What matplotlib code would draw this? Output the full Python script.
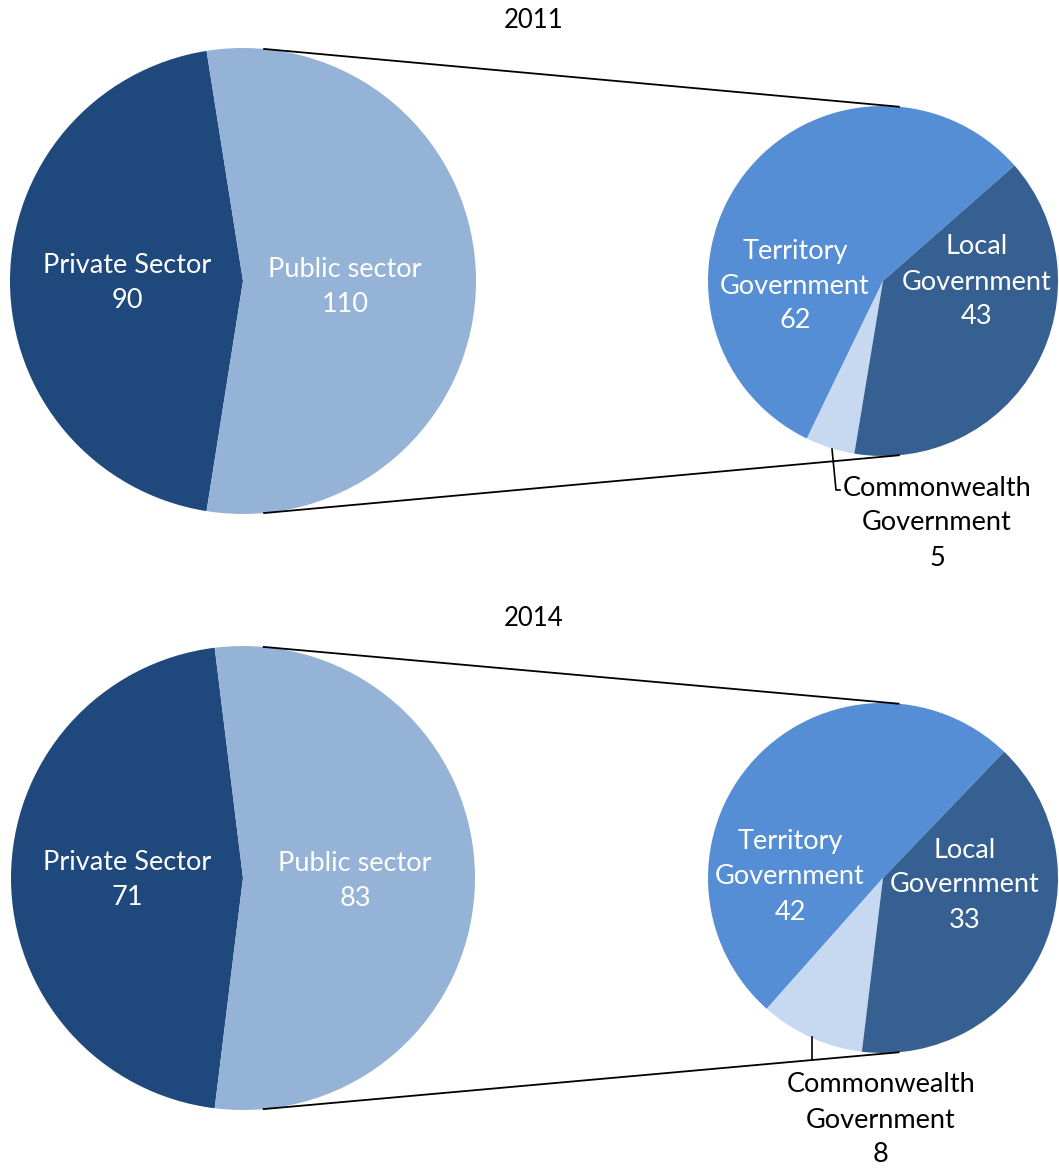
import numpy as np
import matplotlib
matplotlib.use("Agg")
import matplotlib.pyplot as plt

plt.rcParams["font.family"] = ["Lato", "DejaVu Sans"]

years = ["2011", "2014"]
sector_labels = ["Private Sector", "Public sector"]
sector_values = [[90, 110], [71, 83]]
public_labels = ["Territory\nGovernment", "Commonwealth\nGovernment", "Local\nGovernment"]
public_values = [[62, 5, 43], [42, 8, 33]]

sector_colors = ["#1F497D", "#95B3D7"]
public_colors = ["#558ED5", "#C6D9F1", "#366092"]

W, H = 1059, 1169
fig = plt.figure(figsize=(W / 100, H / 100), dpi=100)
ax = fig.add_axes([0, 0, 1, 1])

FS = 19.5
LS = 1.5

# layout per panel (pixel coords, y measured from top)
panels = [
    dict(title_y=20, big=(243, 281, 233), small=(883, 281, 175), small_start=41.3,
         big_lbl=[(127, 283), (345, 287)], small_lbl=[(795, 286), None, (977, 282)],
         cw_text=(937, 523), leader=[(832, 449), (836, 490), (840, 490)]),
    dict(title_y=618, big=(243, 878, 232), small=(883, 878, 175), small_start=46.2,
         big_lbl=[(127, 880), (355, 881)], small_lbl=[(790, 877), None, (965, 885)],
         cw_text=(881, 1120), leader=[(812, 1037), (812, 1060)]),
]


def fy(y):
    return H - y


for i, p in enumerate(panels):
    ax.text(534, fy(p["title_y"]), years[i], ha="center", va="center", fontsize=FS * 0.95)

    bx, by, br = p["big"]
    sx, sy, sr = p["small"]
    vals = sector_values[i]
    private_deg = vals[0] / sum(vals) * 360
    start = 90 + (180 - private_deg) / 2
    ax.pie(vals, colors=sector_colors, startangle=start, counterclock=True,
           center=(bx, fy(by)), radius=br, wedgeprops=dict(linewidth=0), frame=True)
    for (lx, ly), name, v in zip(p["big_lbl"], sector_labels, vals):
        ax.text(lx, fy(ly), f"{name}\n{v}", ha="center", va="center", color="white",
                fontsize=FS, linespacing=LS)

    pv = public_values[i]
    ax.pie(pv, colors=public_colors, startangle=p["small_start"], counterclock=True,
           center=(sx, fy(sy)), radius=sr, wedgeprops=dict(linewidth=0), frame=True)
    for pos, name, v in zip(p["small_lbl"], public_labels, pv):
        if pos is None:
            continue
        ax.text(pos[0], fy(pos[1]), f"{name}\n{v}", ha="center", va="center", color="white",
                fontsize=FS, linespacing=LS)
    ax.text(p["cw_text"][0], fy(p["cw_text"][1]), f"{public_labels[1]}\n{pv[1]}",
            ha="center", va="center", color="black", fontsize=FS, linespacing=LS)
    lx = [q[0] for q in p["leader"]]
    ly = [fy(q[1]) for q in p["leader"]]
    ax.plot(lx, ly, color="black", lw=1.2)

    # external tangent lines between the two circles
    d = sx - bx
    th = np.arccos((br - sr) / d)
    for sgn in (1, -1):
        x1, y1 = bx + br * np.cos(th), fy(by) + sgn * br * np.sin(th)
        x2, y2 = sx + sr * np.cos(th), fy(sy) + sgn * sr * np.sin(th)
        ax.plot([x1, x2], [y1, y2], color="black", lw=1.3)

ax.set_xlim(0, W)
ax.set_ylim(0, H)
ax.set_aspect("equal")
ax.axis("off")
fig.savefig("out.png", dpi=100)
